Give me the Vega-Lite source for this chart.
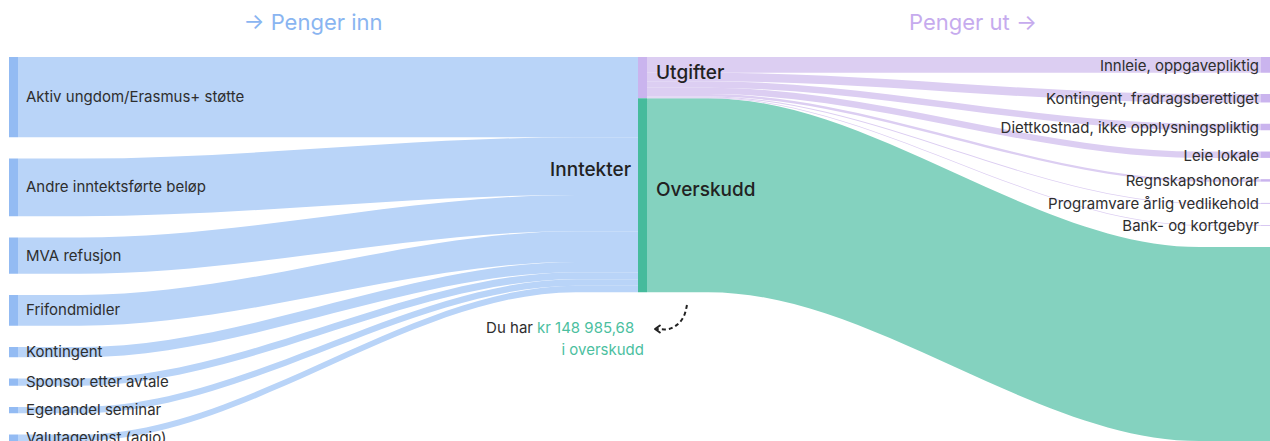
{
  "$schema": "https://vega.github.io/schema/vega-lite/v6.json",
  "width": 1270,
  "height": 441,
  "autosize": "none",
  "padding": 0,
  "background": "white",
  "config": {"view": {"stroke": null}, "font": "Inter"},
  "datasets": {
    "links": [
      {"link": "Aktiv", "kind": "inn", "x": 0.0143, "lo": 0, "hi": 61700},
      {"link": "Aktiv", "kind": "inn", "x": 0.1129, "lo": 0, "hi": 61700},
      {"link": "Aktiv", "kind": "inn", "x": 0.9014, "lo": 0, "hi": 61700},
      {"link": "Aktiv", "kind": "inn", "x": 1, "lo": 0, "hi": 61700},
      {"link": "Andre", "kind": "inn", "x": 0.0143, "lo": 78030, "hi": 122280},
      {"link": "Andre", "kind": "inn", "x": 0.1129, "lo": 78030, "hi": 122280},
      {"link": "Andre", "kind": "inn", "x": 0.9014, "lo": 61700, "hi": 105950},
      {"link": "Andre", "kind": "inn", "x": 1, "lo": 61700, "hi": 105950},
      {"link": "MVA", "kind": "inn", "x": 0.0143, "lo": 138610, "hi": 166410},
      {"link": "MVA", "kind": "inn", "x": 0.1129, "lo": 138610, "hi": 166410},
      {"link": "MVA", "kind": "inn", "x": 0.9014, "lo": 105950, "hi": 133750},
      {"link": "MVA", "kind": "inn", "x": 1, "lo": 105950, "hi": 133750},
      {"link": "Frifond", "kind": "inn", "x": 0.0143, "lo": 182740, "hi": 206390},
      {"link": "Frifond", "kind": "inn", "x": 0.1129, "lo": 182740, "hi": 206390},
      {"link": "Frifond", "kind": "inn", "x": 0.9014, "lo": 133750, "hi": 157400},
      {"link": "Frifond", "kind": "inn", "x": 1, "lo": 133750, "hi": 157400},
      {"link": "Kontingent", "kind": "inn", "x": 0.0143, "lo": 222720, "hi": 230570},
      {"link": "Kontingent", "kind": "inn", "x": 0.1129, "lo": 222720, "hi": 230570},
      {"link": "Kontingent", "kind": "inn", "x": 0.9014, "lo": 157400, "hi": 165250},
      {"link": "Kontingent", "kind": "inn", "x": 1, "lo": 157400, "hi": 165250},
      {"link": "Sponsor", "kind": "inn", "x": 0.0143, "lo": 246900, "hi": 252400},
      {"link": "Sponsor", "kind": "inn", "x": 0.1129, "lo": 246900, "hi": 252400},
      {"link": "Sponsor", "kind": "inn", "x": 0.9014, "lo": 165250, "hi": 170750},
      {"link": "Sponsor", "kind": "inn", "x": 1, "lo": 165250, "hi": 170750},
      {"link": "Egenandel", "kind": "inn", "x": 0.0143, "lo": 268730, "hi": 273630},
      {"link": "Egenandel", "kind": "inn", "x": 0.1129, "lo": 268730, "hi": 273630},
      {"link": "Egenandel", "kind": "inn", "x": 0.9014, "lo": 170750, "hi": 175650},
      {"link": "Egenandel", "kind": "inn", "x": 1, "lo": 170750, "hi": 175650},
      {"link": "Valuta", "kind": "inn", "x": 0.0143, "lo": 289960, "hi": 294910},
      {"link": "Valuta", "kind": "inn", "x": 0.1129, "lo": 289960, "hi": 294910},
      {"link": "Valuta", "kind": "inn", "x": 0.9014, "lo": 175650, "hi": 180600},
      {"link": "Valuta", "kind": "inn", "x": 1, "lo": 175650, "hi": 180600},
      {"link": "Overskudd", "kind": "overskudd", "x": 1.0145, "lo": 31614.32, "hi": 180600},
      {"link": "Overskudd", "kind": "overskudd", "x": 1.113, "lo": 31614.32, "hi": 180600},
      {"link": "Overskudd", "kind": "overskudd", "x": 1.9014, "lo": 145924.32, "hi": 294910},
      {"link": "Overskudd", "kind": "overskudd", "x": 2, "lo": 145924.32, "hi": 294910},
      {"link": "Innleie", "kind": "ut", "x": 1.0145, "lo": 0, "hi": 12100},
      {"link": "Innleie", "kind": "ut", "x": 1.113, "lo": 0, "hi": 12100},
      {"link": "Innleie", "kind": "ut", "x": 1.9014, "lo": 0, "hi": 12100},
      {"link": "Innleie", "kind": "ut", "x": 2, "lo": 0, "hi": 12100},
      {"link": "KontF", "kind": "ut", "x": 1.0145, "lo": 12100, "hi": 18600},
      {"link": "KontF", "kind": "ut", "x": 1.113, "lo": 12100, "hi": 18600},
      {"link": "KontF", "kind": "ut", "x": 1.9014, "lo": 28430, "hi": 34930},
      {"link": "KontF", "kind": "ut", "x": 2, "lo": 28430, "hi": 34930},
      {"link": "Diett", "kind": "ut", "x": 1.0145, "lo": 18600, "hi": 23600},
      {"link": "Diett", "kind": "ut", "x": 1.113, "lo": 18600, "hi": 23600},
      {"link": "Diett", "kind": "ut", "x": 1.9014, "lo": 51260, "hi": 56260},
      {"link": "Diett", "kind": "ut", "x": 2, "lo": 51260, "hi": 56260},
      {"link": "Leie", "kind": "ut", "x": 1.0145, "lo": 23600, "hi": 28500},
      {"link": "Leie", "kind": "ut", "x": 1.113, "lo": 23600, "hi": 28500},
      {"link": "Leie", "kind": "ut", "x": 1.9014, "lo": 72590, "hi": 77490},
      {"link": "Leie", "kind": "ut", "x": 2, "lo": 72590, "hi": 77490},
      {"link": "Regnskap", "kind": "ut", "x": 1.0145, "lo": 28500, "hi": 30400},
      {"link": "Regnskap", "kind": "ut", "x": 1.113, "lo": 28500, "hi": 30400},
      {"link": "Regnskap", "kind": "ut", "x": 1.9014, "lo": 93820, "hi": 95720},
      {"link": "Regnskap", "kind": "ut", "x": 2, "lo": 93820, "hi": 95720},
      {"link": "Programvare", "kind": "ut", "x": 1.0145, "lo": 30400, "hi": 31050},
      {"link": "Programvare", "kind": "ut", "x": 1.113, "lo": 30400, "hi": 31050},
      {"link": "Programvare", "kind": "ut", "x": 1.9014, "lo": 112050, "hi": 112700},
      {"link": "Programvare", "kind": "ut", "x": 2, "lo": 112050, "hi": 112700},
      {"link": "Bank", "kind": "ut", "x": 1.0145, "lo": 31050, "hi": 31614.32},
      {"link": "Bank", "kind": "ut", "x": 1.113, "lo": 31050, "hi": 31614.32},
      {"link": "Bank", "kind": "ut", "x": 1.9014, "lo": 129030, "hi": 129594.32},
      {"link": "Bank", "kind": "ut", "x": 2, "lo": 129030, "hi": 129594.32}
    ],
    "nodes": [
      {"node": "Aktiv ungdom/Erasmus+ støtte", "kind": "inn-node", "x0": 0, "x1": 0.0143, "lo": 0, "hi": 61700},
      {"node": "Andre inntektsførte beløp", "kind": "inn-node", "x0": 0, "x1": 0.0143, "lo": 78030, "hi": 122280},
      {"node": "MVA refusjon", "kind": "inn-node", "x0": 0, "x1": 0.0143, "lo": 138610, "hi": 166410},
      {"node": "Frifondmidler", "kind": "inn-node", "x0": 0, "x1": 0.0143, "lo": 182740, "hi": 206390},
      {"node": "Kontingent", "kind": "inn-node", "x0": 0, "x1": 0.0143, "lo": 222720, "hi": 230570},
      {"node": "Sponsor etter avtale", "kind": "inn-node", "x0": 0, "x1": 0.0143, "lo": 246900, "hi": 252400},
      {"node": "Egenandel seminar", "kind": "inn-node", "x0": 0, "x1": 0.0143, "lo": 268730, "hi": 273630},
      {"node": "Valutagevinst (agio)", "kind": "inn-node", "x0": 0, "x1": 0.0143, "lo": 289960, "hi": 294910},
      {"node": "Utgifter", "kind": "ut-node", "x0": 1, "x1": 1.0145, "lo": 0, "hi": 31614.32},
      {"node": "Overskudd", "kind": "overskudd-node", "x0": 1, "x1": 1.0145, "lo": 31614.32, "hi": 180600},
      {"node": "Innleie, oppgavepliktig", "kind": "ut-node", "x0": 2, "x1": 2.0145, "lo": 0, "hi": 12100},
      {"node": "Kontingent, fradragsberettiget", "kind": "ut-node", "x0": 2, "x1": 2.0145, "lo": 28430, "hi": 34930},
      {"node": "Diettkostnad, ikke opplysningspliktig", "kind": "ut-node", "x0": 2, "x1": 2.0145, "lo": 51260, "hi": 56260},
      {"node": "Leie lokale", "kind": "ut-node", "x0": 2, "x1": 2.0145, "lo": 72590, "hi": 77490},
      {"node": "Regnskapshonorar", "kind": "ut-node", "x0": 2, "x1": 2.0145, "lo": 93820, "hi": 95720},
      {"node": "Programvare årlig vedlikehold", "kind": "ut-node", "x0": 2, "x1": 2.0145, "lo": 112050, "hi": 112700},
      {"node": "Bank- og kortgebyr", "kind": "ut-node", "x0": 2, "x1": 2.0145, "lo": 129030, "hi": 129594.32},
      {"node": "Overskudd (ut)", "kind": "overskudd-end", "x0": 2, "x1": 2.0145, "lo": 145924.32, "hi": 294910}
    ],
    "labels": [
      {"group": "left", "text": "Aktiv ungdom/Erasmus+ støtte", "x": 0.0143, "y": 30850},
      {"group": "left", "text": "Andre inntektsførte beløp", "x": 0.0143, "y": 100155},
      {"group": "left", "text": "MVA refusjon", "x": 0.0143, "y": 152510},
      {"group": "left", "text": "Frifondmidler", "x": 0.0143, "y": 194565},
      {"group": "left", "text": "Kontingent", "x": 0.0143, "y": 226645},
      {"group": "left", "text": "Sponsor etter avtale", "x": 0.0143, "y": 249650},
      {"group": "left", "text": "Egenandel seminar", "x": 0.0143, "y": 271180},
      {"group": "left", "text": "Valutagevinst (agio)", "x": 0.0143, "y": 292435},
      {"group": "right", "text": "Innleie, oppgavepliktig", "x": 2, "y": 6050},
      {"group": "right", "text": "Kontingent, fradragsberettiget", "x": 2, "y": 31680},
      {"group": "right", "text": "Diettkostnad, ikke opplysningspliktig", "x": 2, "y": 53760},
      {"group": "right", "text": "Leie lokale", "x": 2, "y": 75040},
      {"group": "right", "text": "Regnskapshonorar", "x": 2, "y": 94770},
      {"group": "right", "text": "Programvare årlig vedlikehold", "x": 2, "y": 112375},
      {"group": "right", "text": "Bank- og kortgebyr", "x": 2, "y": 129312},
      {"group": "mid-left", "text": "Inntekter", "x": 1, "y": 90300},
      {"group": "mid-right", "text": "Utgifter", "x": 1.0145, "y": 15807},
      {"group": "mid-right", "text": "Overskudd", "x": 1.0145, "y": 106107},
      {"group": "ann-dark", "text": "Du har", "x": 0.8362, "y": 208128},
      {"group": "ann-green-left", "text": "kr 148 985,68", "x": 0.8362, "y": 208128},
      {"group": "ann-green-right", "text": "i overskudd", "x": 1, "y": 225024},
      {"group": "title-in", "text": "→ Penger inn", "x": 0.4833, "y": -26112},
      {"group": "title-out", "text": "Penger ut →", "x": 1.5377, "y": -26112}
    ],
    "arrow": [
      {"i": 0, "x": 1.0786, "y": 190464},
      {"i": 1, "x": 1.0738, "y": 198912},
      {"i": 2, "x": 1.0642, "y": 205056},
      {"i": 3, "x": 1.0498, "y": 208896},
      {"i": 4, "x": 1.0305, "y": 208896}
    ],
    "arrowhead": [
      {"x": 1.0273, "y": 208896}
    ]
  },
  "layer": [
    {
      "data": {"name": "links"},
      "mark": {"type": "area", "interpolate": "monotone"},
      "encoding": {
        "x": {"field": "x", "type": "quantitative", "scale": {"domain": [0, 1, 2], "range": [9, 638, 1261], "zero": false, "nice": false}, "axis": null},
        "y": {"field": "lo", "type": "quantitative", "scale": {"domain": [-43776, 294912], "reverse": true, "zero": false, "nice": false}, "axis": null},
        "y2": {"field": "hi"},
        "detail": {"field": "link"},
        "color": {"field": "kind", "type": "nominal", "legend": null,
          "scale": {"domain": ["inn", "ut", "overskudd", "inn-node", "ut-node", "overskudd-node", "overskudd-end"],
                    "range": ["#b9d4f8", "#dccef2", "#84d2bf", "#93bbf3", "#cab4ee", "#46bb9c", "#84d2bf"]}}
      }
    },
    {
      "data": {"name": "nodes"},
      "mark": {"type": "rect"},
      "encoding": {
        "x": {"field": "x0", "type": "quantitative", "scale": {"domain": [0, 1, 2], "range": [9, 638, 1261], "zero": false, "nice": false}, "axis": null},
        "x2": {"field": "x1"},
        "y": {"field": "lo", "type": "quantitative", "scale": {"domain": [-43776, 294912], "reverse": true, "zero": false, "nice": false}, "axis": null},
        "y2": {"field": "hi"},
        "color": {"field": "kind", "type": "nominal", "legend": null,
          "scale": {"domain": ["inn", "ut", "overskudd", "inn-node", "ut-node", "overskudd-node", "overskudd-end"],
                    "range": ["#b9d4f8", "#dccef2", "#84d2bf", "#93bbf3", "#cab4ee", "#46bb9c", "#84d2bf"]}}
      }
    },
    {
      "data": {"name": "labels"},
      "transform": [{"filter": "datum.group == 'left'"}],
      "mark": {"type": "text", "align": "left", "baseline": "middle", "dx": 8, "fontSize": 15, "color": "#2e2e2e"},
      "encoding": {
        "x": {"field": "x", "type": "quantitative", "scale": {"domain": [0, 1, 2], "range": [9, 638, 1261], "zero": false, "nice": false}, "axis": null},
        "y": {"field": "y", "type": "quantitative", "scale": {"domain": [-43776, 294912], "reverse": true, "zero": false, "nice": false}, "axis": null},
        "text": {"field": "text"}
      }
    },
    {
      "data": {"name": "labels"},
      "transform": [{"filter": "datum.group == 'right'"}],
      "mark": {"type": "text", "align": "right", "baseline": "middle", "dx": -2, "dy": 1, "fontSize": 15, "color": "#2e2e2e"},
      "encoding": {
        "x": {"field": "x", "type": "quantitative", "scale": {"domain": [0, 1, 2], "range": [9, 638, 1261], "zero": false, "nice": false}, "axis": null},
        "y": {"field": "y", "type": "quantitative", "scale": {"domain": [-43776, 294912], "reverse": true, "zero": false, "nice": false}, "axis": null},
        "text": {"field": "text"}
      }
    },
    {
      "data": {"name": "labels"},
      "transform": [{"filter": "datum.group == 'mid-left'"}],
      "mark": {"type": "text", "align": "right", "baseline": "middle", "dx": -7, "dy": -5, "fontSize": 19, "fontWeight": 500, "color": "#222222"},
      "encoding": {
        "x": {"field": "x", "type": "quantitative", "scale": {"domain": [0, 1, 2], "range": [9, 638, 1261], "zero": false, "nice": false}, "axis": null},
        "y": {"field": "y", "type": "quantitative", "scale": {"domain": [-43776, 294912], "reverse": true, "zero": false, "nice": false}, "axis": null},
        "text": {"field": "text"}
      }
    },
    {
      "data": {"name": "labels"},
      "transform": [{"filter": "datum.group == 'mid-right'"}],
      "mark": {"type": "text", "align": "left", "baseline": "middle", "dx": 9, "dy": -5, "fontSize": 19, "fontWeight": 500, "color": "#222222"},
      "encoding": {
        "x": {"field": "x", "type": "quantitative", "scale": {"domain": [0, 1, 2], "range": [9, 638, 1261], "zero": false, "nice": false}, "axis": null},
        "y": {"field": "y", "type": "quantitative", "scale": {"domain": [-43776, 294912], "reverse": true, "zero": false, "nice": false}, "axis": null},
        "text": {"field": "text"}
      }
    },
    {
      "data": {"name": "labels"},
      "transform": [{"filter": "datum.group == 'ann-dark'"}],
      "mark": {"type": "text", "align": "right", "baseline": "middle", "dx": -2, "fontSize": 15, "color": "#2e2e2e"},
      "encoding": {
        "x": {"field": "x", "type": "quantitative", "scale": {"domain": [0, 1, 2], "range": [9, 638, 1261], "zero": false, "nice": false}, "axis": null},
        "y": {"field": "y", "type": "quantitative", "scale": {"domain": [-43776, 294912], "reverse": true, "zero": false, "nice": false}, "axis": null},
        "text": {"field": "text"}
      }
    },
    {
      "data": {"name": "labels"},
      "transform": [{"filter": "datum.group == 'ann-green-left'"}],
      "mark": {"type": "text", "align": "left", "baseline": "middle", "dx": 2, "fontSize": 15, "color": "#4cbf9f"},
      "encoding": {
        "x": {"field": "x", "type": "quantitative", "scale": {"domain": [0, 1, 2], "range": [9, 638, 1261], "zero": false, "nice": false}, "axis": null},
        "y": {"field": "y", "type": "quantitative", "scale": {"domain": [-43776, 294912], "reverse": true, "zero": false, "nice": false}, "axis": null},
        "text": {"field": "text"}
      }
    },
    {
      "data": {"name": "labels"},
      "transform": [{"filter": "datum.group == 'ann-green-right'"}],
      "mark": {"type": "text", "align": "right", "baseline": "middle", "dx": 6, "fontSize": 15, "color": "#4cbf9f"},
      "encoding": {
        "x": {"field": "x", "type": "quantitative", "scale": {"domain": [0, 1, 2], "range": [9, 638, 1261], "zero": false, "nice": false}, "axis": null},
        "y": {"field": "y", "type": "quantitative", "scale": {"domain": [-43776, 294912], "reverse": true, "zero": false, "nice": false}, "axis": null},
        "text": {"field": "text"}
      }
    },
    {
      "data": {"name": "labels"},
      "transform": [{"filter": "datum.group == 'title-in'"}],
      "mark": {"type": "text", "align": "center", "baseline": "middle", "fontSize": 22, "fontWeight": 400, "color": "#8ab5f1"},
      "encoding": {
        "x": {"field": "x", "type": "quantitative", "scale": {"domain": [0, 1, 2], "range": [9, 638, 1261], "zero": false, "nice": false}, "axis": null},
        "y": {"field": "y", "type": "quantitative", "scale": {"domain": [-43776, 294912], "reverse": true, "zero": false, "nice": false}, "axis": null},
        "text": {"field": "text"}
      }
    },
    {
      "data": {"name": "labels"},
      "transform": [{"filter": "datum.group == 'title-out'"}],
      "mark": {"type": "text", "align": "center", "baseline": "middle", "fontSize": 22, "fontWeight": 400, "color": "#c6abee"},
      "encoding": {
        "x": {"field": "x", "type": "quantitative", "scale": {"domain": [0, 1, 2], "range": [9, 638, 1261], "zero": false, "nice": false}, "axis": null},
        "y": {"field": "y", "type": "quantitative", "scale": {"domain": [-43776, 294912], "reverse": true, "zero": false, "nice": false}, "axis": null},
        "text": {"field": "text"}
      }
    },
    {
      "data": {"name": "arrow"},
      "mark": {"type": "line", "interpolate": "catmull-rom", "strokeDash": [4, 3], "strokeWidth": 2, "color": "#222222"},
      "encoding": {
        "x": {"field": "x", "type": "quantitative", "scale": {"domain": [0, 1, 2], "range": [9, 638, 1261], "zero": false, "nice": false}, "axis": null},
        "y": {"field": "y", "type": "quantitative", "scale": {"domain": [-43776, 294912], "reverse": true, "zero": false, "nice": false}, "axis": null},
        "order": {"field": "i", "type": "quantitative"}
      }
    },
    {
      "data": {"name": "arrowhead"},
      "mark": {"type": "point", "shape": "M1.4,-1L0,0L1.4,1", "size": 49, "filled": false, "stroke": "#222222", "strokeWidth": 2, "opacity": 1, "strokeCap": "round", "strokeJoin": "round"},
      "encoding": {
        "x": {"field": "x", "type": "quantitative", "scale": {"domain": [0, 1, 2], "range": [9, 638, 1261], "zero": false, "nice": false}, "axis": null},
        "y": {"field": "y", "type": "quantitative", "scale": {"domain": [-43776, 294912], "reverse": true, "zero": false, "nice": false}, "axis": null}
      }
    }
  ]
}
